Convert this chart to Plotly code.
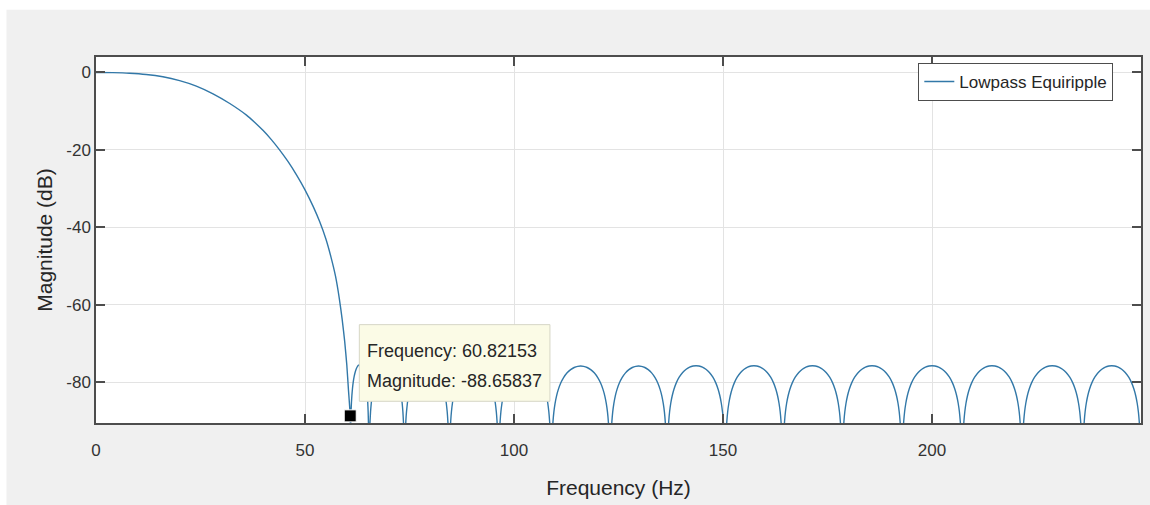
import plotly.graph_objects as go

# ---- data ----
# passband / transition band (Hz, dB)
pass_freq_hz = [0, 4, 8, 12, 16, 20, 24, 28, 32, 36, 38, 40, 42, 44, 46, 48, 50, 52,
                53.5, 55, 56.2, 57.3, 58.2, 58.9, 59.5, 60.0, 60.4, 60.82153]
pass_mag_db = [0, -0.04, -0.18, -0.5, -1.1, -2.1, -3.5, -5.5, -8.0, -11.0, -12.9, -15.0,
               -17.4, -20.1, -23.1, -26.5, -30.3, -34.7, -38.5, -43.0, -47.6, -52.6,
               -58.3, -63.8, -69.5, -75.5, -82.0, -88.65837]

# stopband: null frequencies, lobe peak levels, and the lobe shape (fraction of lobe width, dB below peak)
stop_nulls_hz = [60.82153, 65.3, 73.8, 84.5, 96.3, 108.9, 123.0, 136.6, 150.5,
                 164.3, 178.5, 192.8, 207.2, 221.5, 236.0, 250.0]
stop_peak_db = [-75.5, -75.7, -75.7, -75.7, -75.7, -75.8, -75.8, -75.7, -75.7,
                -75.7, -75.7, -75.7, -75.7, -75.7, -75.7]
lobe_frac = [0.01, 0.02, 0.03, 0.045, 0.065, 0.09, 0.12, 0.16, 0.21, 0.27, 0.33, 0.39, 0.45, 0.5]
lobe_drop_db = [-21.0, -16.8, -14.4, -11.9, -9.7, -7.76, -6.08, -4.44, -2.98, -1.75,
                -0.91, -0.37, -0.08, 0.0]
null_depth_db = -105.7

# data tip
tip_freq = 60.82153
tip_mag = -88.65837

x_ticks = [0, 50, 100, 150, 200]
y_ticks = [0, -20, -40, -60, -80]

# ---- assemble the response from the read values ----
freq = list(pass_freq_hz)
mag = list(pass_mag_db)
for i in range(len(stop_nulls_hz) - 1):
    a, b = stop_nulls_hz[i], stop_nulls_hz[i + 1]
    w = b - a
    pk = stop_peak_db[i]
    for t, d in zip(lobe_frac, lobe_drop_db):
        freq.append(a + w * t)
        mag.append(pk + d)
    for t, d in reversed(list(zip(lobe_frac[:-1], lobe_drop_db[:-1]))):
        freq.append(b - w * t)
        mag.append(pk + d)
    freq.append(b)
    mag.append(null_depth_db)

FONT = "Liberation Sans, Arial, sans-serif"
AX = "#4d4d4d"
TXT = "#333333"

fig = go.Figure()
fig.add_trace(go.Scatter(
    x=freq, y=mag, mode="lines", name="Lowpass Equiripple",
    line=dict(color="#3278a8", width=1.4, shape="spline", smoothing=0.5),
    hoverinfo="skip",
))
fig.add_trace(go.Scatter(
    x=[tip_freq], y=[tip_mag], mode="markers", showlegend=False,
    marker=dict(symbol="square", size=12, color="black", line=dict(color="white", width=1)),
    hoverinfo="skip",
))

# data-tip box and its two text lines
fig.add_shape(type="rect", xref="x", yref="y", x0=63.0, x1=108.6, y0=-84.9, y1=-65.1,
              fillcolor="#fbfbe6", line=dict(color="#d6d6c6", width=1), layer="above")
fig.add_annotation(x=64.3, y=-71.99, xref="x", yref="y", xanchor="left", yanchor="middle",
                   text=f"Frequency: {tip_freq:.5f}", showarrow=False,
                   font=dict(family=FONT, size=18, color="#262626"))
fig.add_annotation(x=64.3, y=-79.74, xref="x", yref="y", xanchor="left", yanchor="middle",
                   text=f"Magnitude: {tip_mag:.5f}", showarrow=False,
                   font=dict(family=FONT, size=18, color="#262626"))

# white edge strips of the screenshot
fig.add_shape(type="rect", xref="paper", yref="paper", x0=-0.2, x1=1.2, y0=1.1293, y1=1.3,
              fillcolor="white", line=dict(width=0), layer="below")
fig.add_shape(type="rect", xref="paper", yref="paper", x0=-0.2, x1=-0.0857, y0=-0.3, y1=1.3,
              fillcolor="white", line=dict(width=0), layer="below")

axis_common = dict(
    showline=True, linecolor=AX, linewidth=1.5, mirror="ticks",
    ticks="inside", ticklen=9, tickwidth=1.5, tickcolor=AX,
    showgrid=True, gridcolor="#e3e3e3", gridwidth=1, zeroline=False,
    tickfont=dict(family=FONT, size=17, color=TXT),
)

fig.update_layout(
    width=1150, height=505,
    margin=dict(l=96, r=7, t=57, b=82),
    paper_bgcolor="#f0f0f0", plot_bgcolor="white",
    font=dict(family=FONT, color="#262626"),
    xaxis=dict(range=[0, 250], tickvals=x_ticks, ticktext=[str(v) for v in x_ticks],
               ticklabelstandoff=11,
               title=dict(text="Frequency (Hz)", font=dict(family=FONT, size=21, color="#262626"),
                          standoff=21),
               **axis_common),
    yaxis=dict(range=[-90.5, 4], tickvals=y_ticks, ticktext=[str(v) for v in y_ticks],
               ticklabelstandoff=0,
               title=dict(text="Magnitude (dB)", font=dict(family=FONT, size=21, color="#262626"),
                          standoff=8),
               **axis_common),
    legend=dict(x=0.9735, y=0.9836, xanchor="right", yanchor="top",
                bgcolor="white", bordercolor=AX, borderwidth=1,
                font=dict(family=FONT, size=17, color="#262626")),
    showlegend=True,
)

fig.write_html("out.html", config={"displayModeBar": False},
               post_script="document.body.style.margin='0';"
                           "document.body.style.overflow='hidden';"
                           "document.documentElement.style.overflow='hidden';")
